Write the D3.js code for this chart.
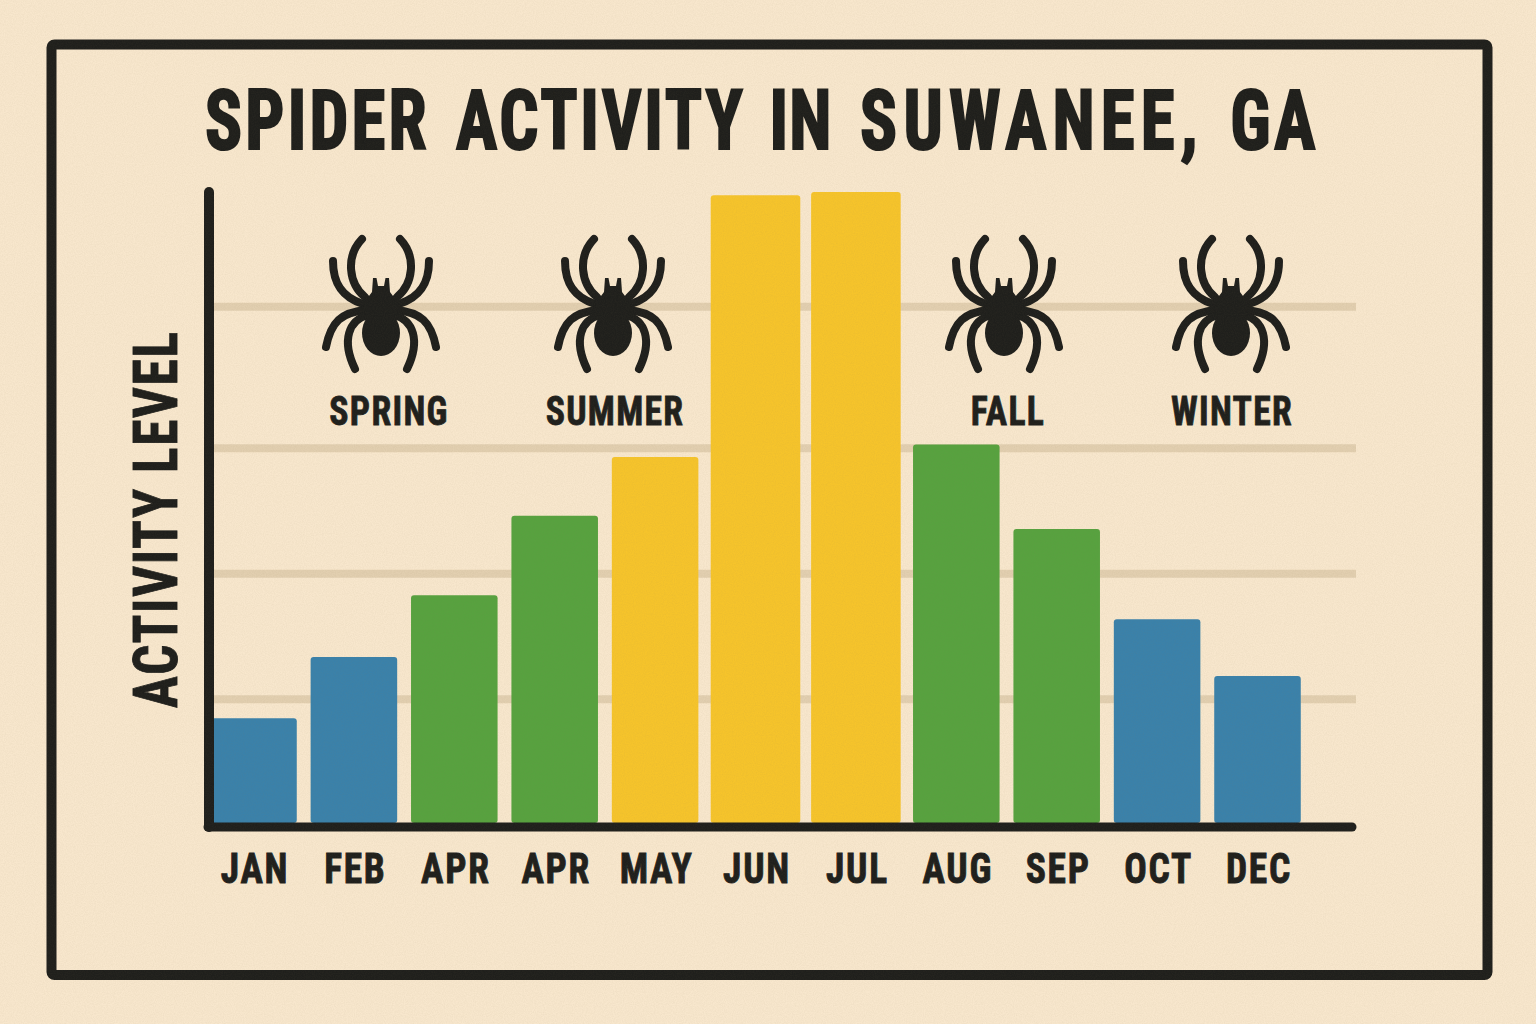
<!DOCTYPE html>
<html><head><meta charset="utf-8"><script src="https://cdn.jsdelivr.net/npm/d3@7"></script>
<style>html,body{margin:0;padding:0;background:#f5e3c8}svg{display:block}
text{font-family:"Liberation Sans Narrow","Roboto Condensed","Liberation Sans",sans-serif;font-weight:700;fill:#1f1f1c;stroke:#1f1f1c}</style></head><body>
<script>
const months=["JAN","FEB","APR","APR","MAY","JUN","JUL","AUG","SEP","OCT","DEC"];
const activity=[16.6,26.3,36.1,48.7,58,99.5,100,60,46.6,32.3,23.3];
const seasonOfBar=["w","w","s","s","y","y","y","s","s","w","w"];
const gridValues=[19.6,39.5,59.4,81.8];
const seasons=["SPRING","SUMMER","FALL","WINTER"];
const titleWords=["SPIDER ","ACTIVITY ","IN ","SUWANEE, ","GA"];
const titleSpacing=[3.9,3.4,1.5,7.5,4.5];
const titleNudge=[0,0,-2,4,-3];
const INK="#1f1f1c";
const colors={w:"#3a81aa",s:"#57a23f",y:"#f6c42b"};
const svg=d3.select("body").append("svg").attr("width",1536).attr("height",1024);
const defs=svg.append("defs");
const f=defs.append("filter").attr("id","grain").attr("x",0).attr("y",0).attr("width","100%").attr("height","100%");
f.append("feTurbulence").attr("type","fractalNoise").attr("baseFrequency",0.9).attr("numOctaves",2).attr("seed",3);
f.append("feColorMatrix").attr("values","0 0 0 0 0.25  0 0 0 0 0.2  0 0 0 0 0.1  0.35 0 0 0 -0.1");
svg.append("rect").attr("width",1536).attr("height",1024).attr("fill","#f8e7cd");
svg.append("rect").attr("x",51.5).attr("y",44.5).attr("width",1436).attr("height",930.5).attr("rx",3)
 .attr("fill","none").attr("stroke",INK).attr("stroke-width",10);
const x=d3.scaleBand().domain(months.map((m,i)=>i)).range([203.2,1307.8]).paddingInner(0.138).paddingOuter(0.07);
const y=d3.scaleLinear().domain([0,100]).range([823,192]);
svg.append("g").selectAll("line").data(gridValues).join("line")
 .attr("x1",213).attr("x2",1356).attr("y1",d=>y(d)).attr("y2",d=>y(d))
 .attr("stroke","#e2cfb0").attr("stroke-width",8);
function wide(i){return seasonOfBar[i]==="y"&&activity[i]>90?1.5:0}
svg.append("g").selectAll("rect").data(activity).join("rect")
 .attr("x",(d,i)=>x(i)-wide(i)).attr("width",(d,i)=>x.bandwidth()+2*wide(i))
 .attr("y",d=>y(d)).attr("height",d=>y(0)-y(d)).attr("rx",3)
 .attr("fill",(d,i)=>colors[seasonOfBar[i]]);
// axes
svg.append("line").attr("x1",209).attr("x2",209).attr("y1",192).attr("y2",827).attr("stroke",INK).attr("stroke-width",10).attr("stroke-linecap","round");
const xAxis=d3.axisBottom(x).tickSize(0).tickPadding(0).tickFormat(i=>months[i]);
const gx=svg.append("g").attr("transform","translate(1.5,827)").call(xAxis);
gx.select(".domain").remove();
gx.selectAll("text").attr("y",24).attr("dy",0).attr("dominant-baseline","hanging").attr("transform","scale(.87,1)")
 .style("font-size","43px").style("stroke-width","0.9px").style("letter-spacing","2px");
svg.append("line").attr("x1",208).attr("x2",1352).attr("y1",827).attr("y2",827).attr("stroke",INK).attr("stroke-width",9).attr("stroke-linecap","round");
// title
svg.append("text").attr("transform","translate(205,149) scale(.82,1)")
 .style("font-size","84px").style("stroke-width","2.2px").style("word-spacing","8.5px")
 .style("white-space","pre").selectAll("tspan").data(titleWords).join("tspan")
 .attr("dx",(d,i)=>titleNudge[i]).style("letter-spacing",(d,i)=>titleSpacing[i]+"px").text(d=>d);
svg.append("text").attr("transform","translate(177,708) rotate(-90) scale(.86,1)").attr("textLength",376/.86).attr("lengthAdjust","spacing")
 .style("font-size","62px").style("stroke-width","0.9px").text("ACTIVITY LEVEL");
// spiders
const legs=["M-16,-5C-32,-18 -36,-45 -19,-63","M-18,2C-40,-5 -48,-20 -48,-41","M-14,8C-40,10 -50,20 -55,45","M-13,13C-32,18 -40,38 -26,67"];
const spiderCenters=[381,613,1004,1231], labelCenters=[389,615,1008,1232];
seasons.forEach((s,i)=>{
 const g=svg.append("g").attr("transform",`translate(${spiderCenters[i]},302)`);
 [-1,1].forEach(k=>{g.append("g").attr("transform",`scale(${k},1)`).selectAll("path").data(legs).join("path")
   .attr("d",d=>d).attr("fill","none").attr("stroke",INK).attr("stroke-width",8).attr("stroke-linecap","round");});
 g.append("ellipse").attr("cx",0).attr("cy",31).attr("rx",19).attr("ry",23).attr("fill",INK);
 g.append("path").attr("fill",INK).attr("d","M-9,-10L-8,-24L-4.5,-24L-3,-16L3,-16L4.5,-24L8,-24L9,-10L18,2L15,14L-15,14L-18,2Z");
 svg.append("text").attr("transform",`translate(${labelCenters[i]},425) scale(.87,1)`).attr("text-anchor","middle")
  .style("font-size","41px").style("stroke-width","0.8px").style("letter-spacing","1.5px").text(s);
});
svg.append("rect").attr("width",1536).attr("height",1024).attr("filter","url(#grain)").attr("opacity",0.35).style("pointer-events","none");
</script></body></html>
